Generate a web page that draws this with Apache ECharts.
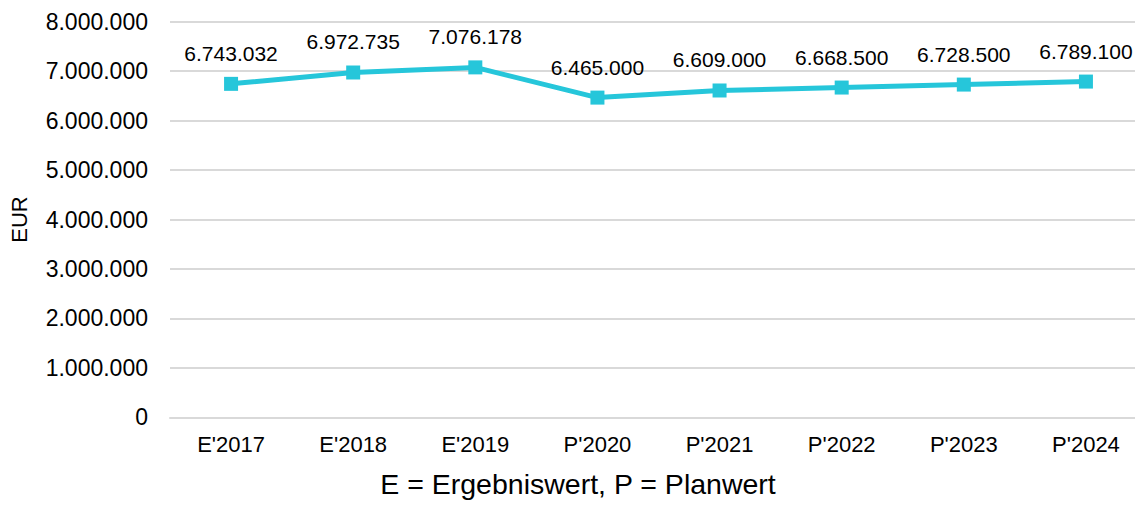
<!DOCTYPE html>
<html>
<head>
<meta charset="utf-8">
<script src="https://cdn.jsdelivr.net/npm/echarts@6/dist/echarts.min.js"></script>
<style>
html,body{margin:0;padding:0;background:#fff;overflow:hidden;}
#chart{width:1135px;height:506px;}
</style>
</head>
<body>
<div id="chart"></div>
<script>
const categories = ["E'2017", "E'2018", "E'2019", "P'2020", "P'2021", "P'2022", "P'2023", "P'2024"];
const values = [6743032, 6972735, 7076178, 6465000, 6609000, 6668500, 6728500, 6789100];
const yTicks = [0, 1000000, 2000000, 3000000, 4000000, 5000000, 6000000, 7000000, 8000000];
const yAxisTitle = "EUR";
const footnote = "E = Ergebniswert, P = Planwert";

function fmt(v) {
  return String(Math.round(v)).replace(/\B(?=(\d{3})+(?!\d))/g, ".");
}

const FONT = "Liberation Sans, Arial, sans-serif";
const chart = echarts.init(document.getElementById('chart'), null, {renderer: 'svg'});
chart.setOption({
  animation: false,
  backgroundColor: '#fff',
  grid: {left: 170, right: -12, top: 21.7, bottom: 88.7, containLabel: false, outerBoundsMode: 'none'},
  xAxis: {
    type: 'category',
    data: categories,
    boundaryGap: true,
    axisLine: {show: true, lineStyle: {color: '#d9d9d9', width: 2}},
    axisTick: {show: false},
    axisLabel: {color: '#000', fontSize: 22, fontFamily: FONT, margin: 16}
  },
  yAxis: {
    type: 'value',
    min: yTicks[0],
    max: yTicks[yTicks.length - 1],
    interval: yTicks[1] - yTicks[0],
    name: yAxisTitle,
    nameLocation: 'middle',
    nameRotate: 90,
    nameGap: 140,
    nameTextStyle: {color: '#000', fontSize: 22, fontFamily: FONT},
    axisLine: {show: false},
    axisTick: {show: false},
    splitLine: {show: true, lineStyle: {color: '#d9d9d9', width: 2}},
    axisLabel: {color: '#000', fontSize: 23, fontFamily: FONT, margin: 22, formatter: fmt}
  },
  graphic: [{
    type: 'text',
    x: 578,
    y: 484,
    style: {
      text: footnote,
      fill: '#000',
      font: '28.5px ' + FONT,
      textAlign: 'center',
      textVerticalAlign: 'middle'
    }
  }],
  series: [{
    type: 'line',
    data: values,
    symbol: 'rect',
    symbolSize: 14,
    lineStyle: {color: '#26C6DA', width: 5},
    itemStyle: {color: '#26C6DA'},
    label: {
      show: true,
      position: 'top',
      distance: 13,
      color: '#000',
      fontSize: 21,
      fontFamily: FONT,
      formatter: p => fmt(p.value)
    }
  }]
});
</script>
</body>
</html>
